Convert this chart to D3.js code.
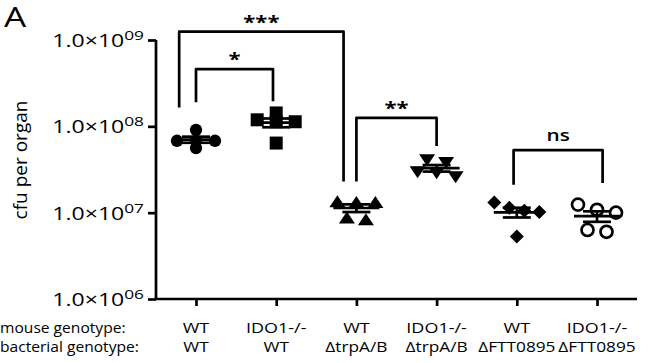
<!DOCTYPE html>
<html><head><meta charset="utf-8">
<script src="https://cdn.jsdelivr.net/npm/d3@7"></script>
<style>body{margin:0;background:#fff}svg{display:block}text{font-family:"Open Sans",sans-serif;fill:#000}</style>
</head><body><svg id="c" width="658" height="363"></svg>
<script>
const mouseGenotype = ["WT","IDO1-/-","WT","IDO1-/-","WT","IDO1-/-"];
const bacterialGenotype = ["WT","WT","\u0394trpA/B","\u0394trpA/B","\u0394FTT0895","\u0394FTT0895"];
const markers = ["circle","square","triangle","triangleDown","diamond","openCircle"];
const g1 = [9.1e7, 6.8e7, 6.8e7, 6.8e7, 5.6e7];
const g2 = [1.43e8, 1.13e8, 1.13e8, 1.19e8, 6.4e7];
const g3 = [1.31e7, 1.34e7, 1.31e7, 8.3e6, 8.7e6];
const g4 = [4.1e7, 3.8e7, 2.98e7, 2.6e7, 2.9e7];
const g5 = [1.31e7, 1.14e7, 1.05e7, 1.02e7, 5.3e6];
const g6 = [1.24e7, 1.08e7, 1.0e7, 6.3e6, 6.0e6];
const groups = [g1,g2,g3,g4,g5,g6];
const yTicks = [1e6,1e7,1e8,1e9];
const yTickExp = ["06","07","08","09"];
// significance brackets: from/to as category positions, top and leg-end values
const sigFrom  = [-0.21, 0, 2.0, 3.96];
const sigTo    = [1.84, 0.96, 3.0, 5.07];
const sigTop   = [1.25e9, 4.6e8, 1.25e8, 5.3e7];
const sigLeftEnd  = [1.65e8, 1.9e8, 2.3e7, 2.1e7];
const sigRightEnd = [2.3e7, 1.95e8, 5.9e7, 2.2e7];
const sigLabel = ["***","*","**","ns"];

const svg = d3.select("#c");
const x = d3.scaleLinear().domain([0,5]).range([196,597]);
const y = d3.scaleLog().domain([1e6,1e9]).range([299,40]);
const SW = 2.7;

function addText(px, py, str, o){
  const g = svg.append("g").attr("transform",`translate(${px},${py}) scale(${o.sx||1},1)`);
  return g.append("text").attr("text-anchor",o.anchor||"start")
    .style("font-size",o.size+"px").style("font-weight",o.weight||600).text(str);
}

// axes
const yAxis = svg.append("g").attr("transform","translate(156,0)")
  .call(d3.axisLeft(y).tickValues(yTicks).tickSize(8).tickFormat(""));
const xAxis = svg.append("g").attr("transform","translate(0,299)")
  .call(d3.axisBottom(x).tickValues(d3.range(6)).tickSize(7).tickFormat(""));
[yAxis,xAxis].forEach(a=>{a.selectAll("path,line").attr("stroke","#000").attr("stroke-width",SW);});
yAxis.select(".domain").attr("d","M0,40V299");
xAxis.select(".domain").attr("d","M154.7,0H637");

// y tick labels
yTicks.forEach((t,i)=>{
  const tx = addText(144, y(t)+7, "", {size:18, anchor:"end", sx:1.28, weight:500});
  tx.append("tspan").text("1.0\u00d710");
  tx.append("tspan").attr("dy",-7).style("font-size","13.5px").text(yTickExp[i]);
});

// y title
svg.append("text").attr("transform","translate(27,160) rotate(-90)").attr("text-anchor","middle")
  .style("font-size","19px").style("font-weight",500).text("cfu per organ");
addText(4, 27, "A", {size:27, sx:1.3, weight:500});

// category labels
addText(0, 333, "mouse genotype:", {size:15, weight:500, sx:1.04});
addText(0, 352, "bacterial genotype:", {size:15, weight:500, sx:1.04});
mouseGenotype.forEach((s,i)=>addText(x(i),333,s,{size:15,anchor:"middle",sx:1.2, weight:500}));
bacterialGenotype.forEach((s,i)=>addText(x(i),352,s,{size:15,anchor:"middle",sx:1.15, weight:500}));

// beeswarm-like row layout
const spacing = 19, rowThresh = 6;
function layout(vals, gi){
  const pts = vals.map(v=>({v, py:y(v)})).sort((a,b)=>a.py-b.py);
  const rows=[]; let cur=[];
  pts.forEach(p=>{ if(cur.length && p.py-cur[cur.length-1].py>rowThresh){rows.push(cur);cur=[];} cur.push(p);});
  if(cur.length) rows.push(cur);
  rows.forEach(r=>{const sp = r.length>3?15:spacing; r.forEach((p,k)=>{p.px = x(gi)+(k-(r.length-1)/2)*sp;});});
  return pts;
}
const sym = {
  circle:d3.symbol().type(d3.symbolCircle).size(120)(),
  square:d3.symbol().type(d3.symbolSquare).size(169)(),
  triangle:"M0,-6.5L8,5.5L-8,5.5Z",
  triangleDown:"M0,6.5L8,-5.5L-8,-5.5Z",
  diamond:"M0,-7L7,0L0,7L-7,0Z",
  openCircle:d3.symbol().type(d3.symbolCircle).size(113)()
};
groups.forEach((vals,gi)=>{
  const pts = layout(vals,gi);
  const m = markers[gi];
  pts.forEach(p=>{
    const el = svg.append("path").attr("d",sym[m]).attr("transform",`translate(${p.px},${p.py})`);
    if(m==="openCircle") el.attr("fill","#fff").attr("stroke","#000").attr("stroke-width",SW);
    else el.attr("fill","#000");
  });
  const mean = d3.mean(vals), sem = d3.deviation(vals)/Math.sqrt(vals.length);
  const cx = x(gi);
  svg.append("line").attr("x1",cx-23).attr("x2",cx+23).attr("y1",y(mean)).attr("y2",y(mean)).attr("stroke","#000").attr("stroke-width",SW);
  [mean-sem,mean+sem].forEach(v=>svg.append("line").attr("x1",cx-14).attr("x2",cx+14).attr("y1",y(v)).attr("y2",y(v)).attr("stroke","#000").attr("stroke-width",SW));
  svg.append("line").attr("x1",cx).attr("x2",cx).attr("y1",y(mean-sem)).attr("y2",y(mean+sem)).attr("stroke","#000").attr("stroke-width",SW);
});

// significance brackets
sigLabel.forEach((lab,i)=>{
  const x1=x(sigFrom[i]), x2=x(sigTo[i]), yt=y(sigTop[i]);
  svg.append("path").attr("d",`M${x1},${y(sigLeftEnd[i])}V${yt}H${x2}V${y(sigRightEnd[i])}`)
    .attr("fill","none").attr("stroke","#000").attr("stroke-width",SW).attr("stroke-linejoin","round");
  const isStar = lab!=="ns";
  addText((x1+x2)/2, isStar?yt-3:yt-9, lab, {size:isStar?17:16, anchor:"middle", sx:1.3, weight:isStar?700:600});
});
</script></body></html>
